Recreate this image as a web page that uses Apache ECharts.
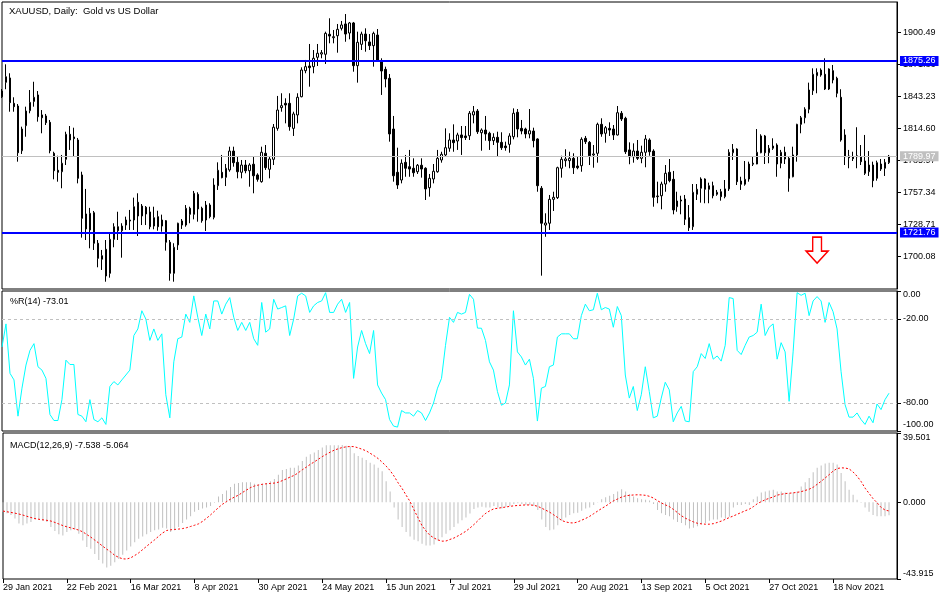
<!DOCTYPE html>
<html><head><meta charset="utf-8">
<script src="https://cdn.jsdelivr.net/npm/echarts@6/dist/echarts.min.js"></script>
<style>html,body{margin:0;padding:0;background:#fff}#c{width:950px;height:600px}</style>
</head><body><div id="c"></div>
<script>
const titleText = 'XAUUSD, Daily:  Gold vs US Dollar';
const tickLabels = ['29 Jan 2021','22 Feb 2021','16 Mar 2021','8 Apr 2021','30 Apr 2021','24 May 2021','15 Jun 2021','7 Jul 2021','29 Jul 2021','20 Aug 2021','13 Sep 2021','5 Oct 2021','27 Oct 2021','18 Nov 2021'];
const barsPerLabel = 16;

const opens = [1848.3,1856.1,1860.0,1837.3,1834.9,1794.9,1817.3,1830.7,1839.0,1844.8,
1826.9,1826.0,1820.3,1792.6,1777.4,1776.1,1787.2,1809.6,1807.2,1804.5,
1773.2,1738.3,1724.0,1739.4,1712.1,1697.8,1706.7,1685.2,1715.6,1726.9,
1723.3,1728.4,1732.0,1732.9,1748.8,1736.5,1744.3,1740.1,1727.5,1735.9,
1727.5,1732.3,1713.0,1685.2,1710.6,1728.4,1728.4,1743.4,1738.0,1755.9,
1743.4,1732.9,1746.3,1735.3,1763.6,1775.6,1771.1,1777.7,1794.6,1784.5,
1775.6,1782.1,1777.0,1782.8,1773.2,1767.2,1792.6,1778.3,1787.2,1814.9,
1833.4,1837.3,1837.3,1814.9,1826.9,1843.2,1866.5,1870.7,1870.1,1878.5,
1881.4,1881.2,1899.1,1896.0,1897.8,1904.4,1908.3,1900.2,1909.2,1871.0,
1890.1,1899.3,1892.2,1888.9,1898.4,1875.2,1867.7,1859.7,1814.3,1775.6,
1768.7,1784.5,1780.6,1779.2,1776.1,1781.9,1779.2,1761.8,1769.6,1776.1,
1786.6,1791.1,1797.1,1804.5,1803.6,1809.0,1808.1,1808.3,1826.9,1830.4,
1811.0,1813.4,1810.5,1803.9,1806.9,1802.4,1799.1,1800.6,1807.4,1829.3,
1814.9,1814.3,1809.9,1812.5,1805.4,1761.3,1728.4,1730.0,1751.4,1752.9,
1779.2,1786.0,1786.0,1788.1,1781.2,1781.5,1806.0,1802.4,1791.1,1792.6,
1818.5,1810.5,1814.9,1814.3,1809.0,1828.4,1823.9,1795.6,1789.5,1794.6,
1788.1,1793.5,1804.5,1794.6,1753.8,1754.6,1765.1,1775.6,1769.3,1744.8,
1749.9,1751.7,1735.0,1726.9,1755.9,1761.3,1769.6,1760.4,1763.6,1755.9,
1758.2,1753.8,1760.7,1793.1,1796.4,1767.8,1764.9,1769.6,1782.8,1783.0,
1793.1,1808.1,1793.1,1797.1,1800.0,1783.7,1793.5,1788.1,1771.6,1791.1,
1818.5,1824.4,1832.0,1848.6,1862.0,1862.6,1863.3,1850.1,1866.5,1859.7,
1842.7,1809.0,1790.2,1789.5,1789.5,1789.5,1785.7,1776.1,1782.1,1770.2,
1783.0,1779.2,1784.2];

const closes = [1843.2,1861.1,1837.9,1834.3,1793.1,1814.3,1830.4,1838.2,1842.7,1825.3,
1824.4,1820.0,1794.9,1777.0,1775.6,1783.7,1809.6,1804.5,1805.7,1770.2,
1734.4,1724.9,1738.9,1712.1,1698.6,1701.0,1682.8,1715.6,1726.9,1723.3,
1727.5,1732.9,1732.9,1744.8,1736.5,1745.4,1738.3,1726.9,1735.0,1726.9,
1732.9,1713.0,1685.2,1708.5,1730.0,1732.0,1743.4,1738.0,1756.8,1742.8,
1732.3,1746.3,1735.9,1764.2,1777.4,1770.8,1779.2,1794.6,1784.2,1776.1,
1782.1,1777.0,1782.1,1772.5,1769.3,1793.5,1779.7,1787.5,1815.9,1831.3,
1835.2,1835.8,1816.4,1827.8,1842.7,1867.1,1870.1,1869.2,1877.6,1882.1,
1882.6,1899.9,1897.5,1896.9,1903.5,1907.4,1899.3,1909.2,1871.0,1891.9,
1899.3,1893.3,1888.9,1899.9,1875.2,1866.2,1859.1,1809.9,1772.5,1764.2,
1783.7,1779.2,1778.5,1775.2,1781.9,1778.5,1760.7,1770.2,1776.5,1788.1,
1791.7,1797.6,1804.5,1802.1,1809.0,1806.6,1806.6,1828.4,1829.8,1811.9,
1813.4,1809.9,1803.9,1806.9,1802.4,1797.6,1797.6,1808.1,1828.4,1814.3,
1812.5,1809.9,1812.8,1803.9,1763.6,1730.0,1730.2,1751.4,1753.2,1779.7,
1787.2,1787.5,1788.1,1779.7,1779.7,1805.1,1803.0,1790.4,1792.0,1818.5,
1809.9,1815.5,1813.4,1809.0,1828.9,1823.3,1794.0,1789.5,1794.6,1788.1,
1793.5,1805.4,1794.0,1753.2,1754.4,1765.1,1774.7,1768.1,1741.9,1749.9,
1750.8,1733.5,1726.0,1757.7,1760.4,1769.6,1760.4,1763.6,1754.6,1757.7,
1753.8,1760.7,1793.5,1796.2,1767.2,1764.9,1769.3,1783.0,1783.7,1793.5,
1808.1,1793.1,1797.1,1799.1,1783.0,1793.5,1787.5,1770.2,1791.1,1818.5,
1824.4,1832.0,1849.2,1863.3,1865.0,1867.1,1850.1,1868.0,1858.2,1846.3,
1804.5,1789.5,1788.6,1787.8,1790.4,1785.1,1774.7,1782.1,1768.1,1784.2,
1778.5,1784.5,1789.97];

const lows = [1842.1,1849.9,1829.8,1829.8,1785.1,1792.0,1807.4,1828.4,1834.3,1820.9,
1810.5,1817.9,1792.6,1769.3,1767.2,1761.3,1782.1,1795.6,1789.5,1765.7,
1717.1,1715.0,1707.6,1706.1,1690.6,1688.2,1677.7,1681.3,1708.5,1715.0,
1699.2,1724.0,1724.0,1724.0,1718.6,1728.4,1728.4,1724.6,1724.6,1723.3,
1722.4,1705.5,1678.6,1677.7,1706.1,1724.9,1726.9,1730.0,1733.5,1731.4,
1730.5,1723.1,1734.4,1733.5,1759.8,1770.2,1763.3,1776.1,1780.6,1770.2,
1770.2,1774.7,1762.7,1756.8,1767.2,1766.3,1777.7,1770.2,1782.1,1812.8,
1829.8,1819.4,1812.8,1808.1,1819.4,1842.7,1864.2,1852.2,1864.2,1870.7,
1877.6,1872.5,1891.0,1891.0,1882.6,1902.5,1892.4,1894.6,1865.6,1855.8,
1885.0,1883.5,1885.0,1870.1,1874.6,1844.8,1851.6,1803.0,1767.2,1760.7,
1765.7,1771.6,1771.6,1771.6,1774.1,1770.8,1750.8,1753.8,1765.7,1775.2,
1784.2,1789.5,1794.0,1794.0,1795.6,1791.1,1804.5,1804.5,1819.4,1809.9,
1794.9,1803.9,1795.6,1800.0,1789.5,1795.6,1794.9,1793.1,1805.1,1806.9,
1809.6,1806.0,1806.0,1797.9,1758.2,1683.1,1717.9,1724.0,1741.0,1751.7,
1770.8,1780.6,1779.2,1774.1,1778.3,1776.1,1800.9,1782.1,1779.7,1784.2,
1807.4,1802.1,1808.1,1804.5,1808.5,1821.5,1792.0,1782.8,1784.2,1786.6,
1783.7,1780.1,1790.4,1744.8,1747.9,1742.5,1758.2,1766.6,1738.0,1740.3,
1738.0,1728.4,1723.1,1724.0,1750.8,1748.4,1747.9,1747.9,1752.3,1754.6,
1750.2,1752.3,1758.9,1786.6,1764.2,1759.8,1763.6,1767.2,1781.2,1782.8,
1792.6,1783.0,1783.7,1795.6,1771.6,1779.2,1783.0,1758.2,1771.1,1785.1,
1810.5,1819.4,1828.4,1844.8,1846.3,1861.1,1849.2,1849.2,1855.2,1842.7,
1803.0,1782.1,1779.2,1785.7,1779.2,1782.1,1773.2,1772.3,1762.2,1768.1,
1776.8,1772.3,1783.0];

const highs = [1850.1,1872.2,1864.2,1842.7,1836.7,1816.4,1834.3,1849.2,1856.6,1848.3,
1831.3,1827.8,1822.4,1794.0,1790.4,1791.1,1811.9,1817.0,1815.5,1806.3,
1776.1,1760.7,1743.7,1741.0,1715.0,1706.1,1715.0,1720.4,1730.0,1740.3,
1730.0,1735.9,1741.9,1752.9,1756.8,1747.2,1745.4,1744.8,1744.8,1741.2,
1737.7,1732.9,1715.0,1712.1,1730.5,1733.8,1746.3,1744.8,1758.9,1757.7,
1744.8,1749.9,1747.9,1770.2,1784.5,1791.1,1783.0,1798.5,1798.5,1789.5,
1786.6,1786.6,1783.7,1789.5,1774.7,1798.5,1800.0,1789.5,1818.8,1843.9,
1846.3,1841.8,1846.3,1829.8,1846.3,1869.5,1876.1,1890.4,1885.0,1890.4,
1885.0,1901.4,1913.4,1902.9,1908.3,1911.0,1917.2,1910.1,1910.1,1901.4,
1901.4,1904.4,1899.3,1901.4,1903.8,1877.6,1870.1,1863.5,1826.0,1797.6,
1787.2,1791.1,1795.6,1788.1,1783.0,1788.1,1780.1,1774.1,1783.0,1795.6,
1794.0,1814.9,1810.5,1818.5,1811.0,1817.0,1817.0,1830.4,1834.9,1832.2,
1814.9,1826.0,1811.9,1810.5,1811.9,1811.4,1803.0,1810.5,1832.8,1832.2,
1822.4,1815.5,1832.2,1815.5,1806.0,1763.3,1738.9,1755.3,1758.2,1780.6,
1790.4,1796.2,1794.0,1792.6,1789.5,1806.9,1808.1,1803.6,1800.0,1820.0,
1823.9,1817.0,1820.3,1817.9,1834.9,1830.4,1825.3,1802.4,1801.5,1804.5,
1799.4,1809.0,1806.0,1796.2,1767.2,1767.2,1782.1,1787.5,1776.8,1758.2,
1754.6,1755.3,1746.3,1765.1,1765.1,1771.1,1770.2,1766.3,1767.2,1759.8,
1760.7,1768.7,1796.2,1800.9,1797.1,1771.6,1785.7,1785.1,1789.5,1814.3,
1809.6,1809.0,1800.0,1806.0,1801.5,1795.6,1798.5,1789.5,1798.5,1819.0,
1826.0,1833.8,1855.8,1868.6,1868.6,1868.6,1877.6,1868.6,1871.6,1861.1,
1849.9,1814.1,1795.6,1794.0,1815.9,1800.0,1809.0,1794.6,1785.1,1786.0,
1787.5,1787.5,1791.1];

const williamsR = [-40,-23.5,-58.8,-63.5,-89.4,-69.4,-52.9,-42.4,-37.6,-54.1,
-56.5,-62.4,-88.2,-92.5,-92.5,-77.6,-49.4,-52.5,-52.5,-88.2,
-89.4,-93.4,-77.6,-91.8,-93.4,-90.6,-95.3,-68.2,-64.7,-67.1,
-63.5,-60,-56.5,-31.8,-27.1,-14.1,-20,-35.3,-27.1,-35.3,
-30.6,-74.1,-90.6,-50.6,-34.1,-32.9,-16.5,-22.4,-3.5,-18.8,
-31.8,-16.5,-27.1,-7.1,-7.1,-16.5,-9.4,-4.7,-18.8,-28.2,
-22.4,-28.2,-22.4,-34.1,-38.8,-8.2,-29.4,-27.1,-5.9,-12.9,
-11.8,-10.6,-31.8,-20,-3.5,-1.6,-3.5,-15.3,-10.6,-8.2,
-7.1,-1.2,-15.3,-15.3,-9.4,-5.9,-15.3,-8.2,-62.4,-40,
-28.2,-37.6,-44.7,-28.2,-67.1,-72.9,-77.6,-91.8,-96.5,-97.2,
-85.4,-87.1,-87.1,-89.4,-85.4,-87.1,-92.5,-87.1,-80,-69.4,
-62.4,-38.8,-18.8,-22.4,-15.3,-16.5,-15.3,-2.4,-5.9,-26.5,
-26.6,-35.3,-50.6,-56.5,-71.8,-81.6,-80,-67.1,-14.1,-43.5,
-47.1,-52.9,-48.7,-62.4,-92.9,-69.4,-68.2,-54.1,-52.9,-32.9,
-30.6,-30.6,-30.6,-34.1,-34.1,-17.6,-9.4,-14.1,-13.4,-1.6,
-13.4,-11.8,-12.9,-25.9,-11.1,-17.6,-60,-76.5,-68.2,-85.4,
-74.1,-54.1,-71.8,-90.6,-89.4,-76.5,-65.2,-70.6,-93.4,-87.1,
-82.4,-92.9,-93.4,-57.6,-54.1,-44.7,-48.2,-37.6,-48.7,-46.4,
-50.1,-38.8,-4.7,-5.4,-42.4,-45.4,-38.8,-32.9,-31.8,-29.4,
-9.4,-31.8,-25.9,-23.5,-48.7,-36.9,-43.5,-78.8,-43.5,-1.2,
-3.1,-1.6,-17.6,-7.1,-4,-7.1,-22.4,-8.2,-14.8,-27.1,
-57.6,-81.2,-90.1,-90.1,-87.1,-91.8,-95.3,-89.4,-94.1,-80.7,
-84.7,-77.6,-73.01];

const macdHist = [-5.5,-6.4,-7.4,-9.3,-12.2,-13.2,-12.2,-11.3,-9.9,-9.9,
-10.7,-11.3,-14.2,-16.5,-18.4,-19.0,-17.1,-16.1,-15.7,-18.0,
-21.9,-25.7,-26.7,-29.6,-33.1,-35.0,-37.3,-36.4,-34.4,-32.5,
-30.0,-27.7,-25.4,-22.9,-20.9,-19.6,-18.4,-17.1,-16.1,-15.7,
-14.6,-15.1,-17.1,-16.1,-14.2,-11.9,-9.9,-8.0,-5.5,-4.5,
-3.6,-3.0,-2.2,-0.3,3.2,4.7,6.7,8.6,10.5,10.9,
11.3,11.3,11.3,10.5,10.0,10.5,10.9,11.9,13.2,15.7,
18.3,19.0,19.6,19.6,21.0,23.5,26.0,27.3,28.3,29.8,
31.2,32.5,32.5,32.5,32.5,32.7,32.2,31.8,27.9,26.4,
25.4,24.1,22.5,21.5,19.6,17.7,11.9,6.1,-3.0,-9.9,
-14.2,-17.1,-19.6,-21.5,-22.3,-23.8,-24.8,-24.8,-24.2,-21.9,
-20.0,-18.0,-16.1,-14.2,-12.2,-10.3,-8.8,-6.5,-3.9,-3.0,
-2.6,-3.0,-3.0,-2.2,-3.0,-3.6,-2.6,-2.2,-1.0,-0.7,
-1.0,-1.6,-1.6,-2.2,-4.5,-9.9,-14.2,-16.1,-15.7,-13.2,
-10.7,-8.8,-7.4,-6.4,-6.1,-4.9,-3.6,-3.0,-1.6,0.1,
1.7,2.8,3.6,4.7,6.1,7.4,6.1,4.7,3.2,2.2,
1.7,1.3,0.9,-1.0,-4.5,-6.4,-7.4,-8.0,-9.9,-11.3,
-11.9,-13.2,-15.1,-14.6,-13.8,-12.6,-11.9,-10.7,-9.9,-9.9,
-8.8,-9.3,-8.4,-3.0,-1.6,-1.6,-1.0,-1.6,1.7,3.2,
5.5,6.1,6.7,7.1,6.1,6.1,5.5,5.1,5.5,6.1,
9.0,11.3,13.8,17.1,19.6,21.0,22.1,22.5,22.5,21.5,
16.7,11.9,7.1,4.2,1.3,-0.3,-3.0,-5.5,-7.4,-8.0,
-8.0,-8.0,-7.538];

const macdSignal = [-5.1,-5.5,-5.9,-6.3,-6.8,-7.4,-8.1,-8.8,-9.4,-9.8,
-10.1,-10.4,-10.8,-11.6,-12.5,-13.4,-14.1,-14.7,-15.3,-16.0,
-17.0,-18.5,-20.0,-21.7,-23.4,-25.2,-26.9,-28.5,-30.4,-31.6,
-32.4,-32.5,-31.8,-30.5,-29.0,-27.1,-25.2,-23.3,-21.5,-19.5,
-17.6,-16.2,-15.8,-15.6,-15.4,-15.1,-14.6,-13.9,-13.2,-12.4,
-11.0,-9.2,-7.3,-5.2,-3.1,-1.2,0.3,1.7,2.9,4.0,
5.5,6.9,8.3,9.2,9.8,10.2,10.5,10.7,10.9,11.4,
12.3,13.3,14.4,15.3,16.8,18.5,20.0,21.6,23.0,24.5,
26.0,27.3,28.6,29.7,30.5,31.2,31.6,31.8,31.7,31.0,
30.2,29.3,27.9,26.5,24.9,22.8,20.6,18.0,14.8,11.0,
7.8,4.0,0.3,-4.5,-9.0,-13.5,-16.5,-19.0,-20.5,-21.6,
-22.3,-22.2,-21.3,-20.5,-19.3,-18.0,-16.6,-14.8,-12.8,-10.6,
-8.3,-6.3,-4.9,-3.8,-3.5,-3.1,-2.8,-2.4,-2.1,-1.9,
-1.7,-1.6,-1.6,-1.8,-2.4,-3.5,-4.6,-5.8,-7.3,-8.8,
-10.5,-11.3,-11.8,-11.9,-11.3,-10.3,-9.3,-8.1,-6.6,-5.1,
-3.6,-2.3,-0.7,0.8,1.8,2.9,3.6,3.9,4.1,4.2,
4.1,3.9,3.3,2.3,0.8,-0.5,-1.6,-2.6,-4.2,-6.0,
-7.8,-9.2,-10.3,-11.3,-12.1,-12.4,-12.6,-12.6,-12.3,-11.6,
-10.8,-9.8,-8.8,-7.9,-6.9,-5.9,-4.9,-4.0,-2.6,-0.9,
0.3,1.4,2.2,3.0,4.0,4.5,4.9,5.1,5.3,5.6,
6.0,6.7,7.4,8.5,10.2,11.9,13.8,15.7,17.8,19.2,
19.6,19.5,19.0,17.2,14.8,11.8,8.0,5.0,2.0,-0.3,
-3.0,-4.5,-5.064];

const priceTicks = [1700.08,1728.71,1757.34,1785.97,1814.60,1843.23,1871.86,1900.49];
const priceRange = [1671.17,1927.96];
const resistance = 1875.26;
const support = 1721.76;
const bidPrice = 1789.97;
const rTicks = [0,-20,-80,-100];
const rLevels = [-20,-80];
const macdTicks = [39.501,0,-43.915];
const arrowAt = [204, 1706];

const FONT = 'Liberation Sans';
const n = opens.length;
const cats = Array.from({length: n + 2}, (_, i) => i);
const candles = opens.map((o, i) => [o, closes[i], lows[i], highs[i]]);

const chart = echarts.init(document.getElementById('c'), null, {renderer: 'canvas'});

function gridDef(top, height) {
  return {left: 2, top: top, width: 895, height: height, show: true, borderColor: '#000', borderWidth: 1, backgroundColor: '#fff'};
}
function hiddenX(gi) {
  return {type: 'category', gridIndex: gi, data: cats, boundaryGap: false, show: false, axisLine: {onZero: false}};
}
function edgeFormatter(fmt, maxV, minV) {
  return function (v) {
    const s = fmt(v);
    if (Math.abs(v - maxV) < 1e-6) return '{t|' + s + '}';
    if (Math.abs(v - minV) < 1e-6) return '{b|' + s + '}';
    return s;
  };
}
const lblBase = {fontSize: 9, color: '#000', fontFamily: FONT};
const isLabelIdx = i => i % barsPerLabel === 0 && i / barsPerLabel < tickLabels.length;

const option = {
  animation: false,
  textStyle: {fontFamily: FONT},
  title: [
    {text: titleText, left: 4, top: 1, textStyle: {fontSize: 9.5, fontWeight: 'normal', color: '#000', fontFamily: FONT}},
    {text: '%R(14) ' + williamsR[n - 1].toFixed(2), left: 5, top: 292, textStyle: {fontSize: 9, fontWeight: 'normal', color: '#000', fontFamily: FONT}},
    {text: 'MACD(12,26,9) ' + macdHist[n - 1].toFixed(3) + ' ' + macdSignal[n - 1].toFixed(3), left: 5, top: 436, textStyle: {fontSize: 9, fontWeight: 'normal', color: '#000', fontFamily: FONT}}
  ],
  grid: [gridDef(2, 287), gridDef(291, 140), gridDef(433, 146)],
  xAxis: [
    hiddenX(0), hiddenX(1),
    {
      type: 'category', gridIndex: 2, data: cats, boundaryGap: false, position: 'bottom',
      axisLine: {show: false, onZero: false},
      axisTick: {show: true, length: 4, lineStyle: {color: '#000'}, interval: isLabelIdx},
      axisLabel: {show: true, fontSize: 9, color: '#000', fontFamily: FONT, align: 'left', margin: 4,
        interval: isLabelIdx,
        formatter: function (v, i) { return tickLabels[i / barsPerLabel] || ''; }},
      splitLine: {show: false}
    }
  ],
  yAxis: [
    {
      type: 'value', gridIndex: 0, position: 'right', min: priceRange[0], max: priceRange[1],
      axisLine: {show: true, lineStyle: {color: '#000'}},
      axisTick: {show: true, length: 4, customValues: priceTicks, lineStyle: {color: '#000'}},
      axisLabel: Object.assign({customValues: priceTicks, margin: 6, formatter: v => v.toFixed(2)}, lblBase),
      splitLine: {show: false}
    },
    {
      type: 'value', gridIndex: 1, position: 'right', min: -100, max: 0,
      axisLine: {show: true, lineStyle: {color: '#000'}},
      axisTick: {show: true, length: 4, customValues: rTicks, lineStyle: {color: '#000'}},
      axisLabel: Object.assign({customValues: rTicks, margin: 6,
        formatter: edgeFormatter(v => v.toFixed(2), 0, -100),
        rich: {t: Object.assign({padding: [8, 0, 0, 0]}, lblBase), b: Object.assign({padding: [0, 0, 12, 0]}, lblBase)}}, lblBase),
      splitLine: {show: false}
    },
    {
      type: 'value', gridIndex: 2, position: 'right', min: macdTicks[2], max: macdTicks[0],
      axisLine: {show: true, lineStyle: {color: '#000'}},
      axisTick: {show: true, length: 4, customValues: macdTicks, lineStyle: {color: '#000'}},
      axisLabel: Object.assign({customValues: macdTicks, margin: 6,
        formatter: edgeFormatter(v => v.toFixed(3), macdTicks[0], macdTicks[2]),
        rich: {t: Object.assign({padding: [10, 0, 0, 0]}, lblBase), b: Object.assign({padding: [0, 0, 10, 0]}, lblBase)}}, lblBase),
      splitLine: {show: false}
    }
  ],
  series: [
    {
      type: 'candlestick', xAxisIndex: 0, yAxisIndex: 0, data: candles, barWidth: 2,
      itemStyle: {color: '#ffffff', color0: '#000000', borderColor: '#000000', borderColor0: '#000000', borderWidth: 1},
      markLine: {
        silent: true, symbol: ['none', 'none'], animation: false,
        data: [
          {yAxis: bidPrice, lineStyle: {color: '#c0c0c0', width: 1, type: 'solid'},
            label: {show: true, position: 'end', distance: 3, formatter: bidPrice.toFixed(2), color: '#fff', backgroundColor: '#c0c0c0', padding: [1, 3, 0, 3], fontSize: 9, fontFamily: FONT}},
          {yAxis: resistance, lineStyle: {color: '#0000ff', width: 2, type: 'solid'},
            label: {show: true, position: 'end', distance: 3, formatter: resistance.toFixed(2), color: '#fff', backgroundColor: '#0000ff', padding: [1, 3, 0, 3], fontSize: 9, fontFamily: FONT}},
          {yAxis: support, lineStyle: {color: '#0000ff', width: 2, type: 'solid'},
            label: {show: true, position: 'end', distance: 3, formatter: support.toFixed(2), color: '#fff', backgroundColor: '#0000ff', padding: [1, 3, 0, 3], fontSize: 9, fontFamily: FONT}}
        ]
      },
      markPoint: {
        silent: true, animation: false,
        data: [{coord: arrowAt, symbol: 'path://M6,0 L14,0 L14,14 L20,14 L10,26 L0,14 L6,14 Z', symbolSize: [22, 26],
          itemStyle: {color: '#ffffff', borderColor: '#ff0000', borderWidth: 1.5}, label: {show: false}}]
      }
    },
    {
      type: 'line', xAxisIndex: 1, yAxisIndex: 1, data: williamsR, showSymbol: false, symbol: 'none',
      lineStyle: {color: '#00ffff', width: 1},
      markLine: {
        silent: true, symbol: ['none', 'none'], animation: false, label: {show: false},
        lineStyle: {color: '#c0c0c0', width: 1, type: [3, 3]},
        data: rLevels.map(v => ({yAxis: v}))
      }
    },
    {
      type: 'bar', xAxisIndex: 2, yAxisIndex: 2, data: macdHist, barWidth: 1,
      itemStyle: {color: '#c0c0c0'}
    },
    {
      type: 'line', xAxisIndex: 2, yAxisIndex: 2, data: macdSignal, showSymbol: false, symbol: 'none',
      lineStyle: {color: '#ff0000', width: 1, type: [2, 2]}
    }
  ]
};
chart.setOption(option);
</script>
</body></html>
